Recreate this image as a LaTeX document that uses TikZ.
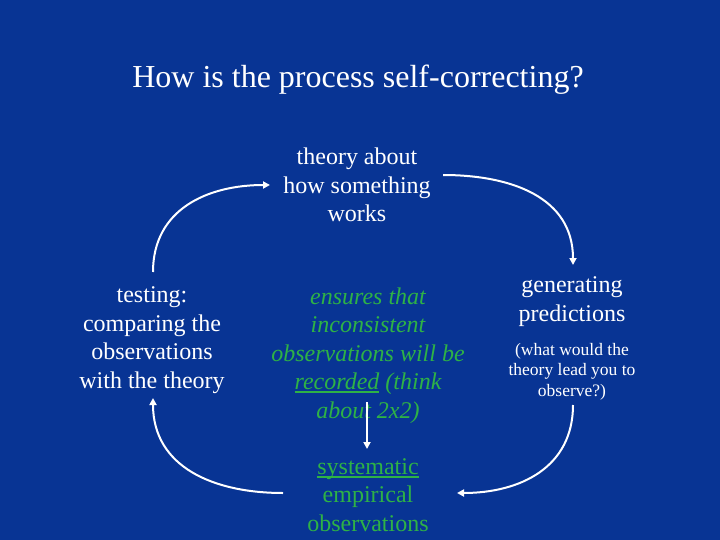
\documentclass[tikz,border=0pt]{standalone}
\usepackage{fontspec}
\setmainfont{Liberation Serif}
\usetikzlibrary{arrows.meta}
\definecolor{slideblue}{RGB}{8,52,148}
\definecolor{slidegreen}{RGB}{46,178,70}
\newcommand{\thickul}[1]{\setbox0\hbox{#1}\rlap{\rule[-3.5pt]{\wd0}{1.6pt}}\box0\relax}
\begin{document}
\begin{tikzpicture}[x=1pt,y=-1pt,
    txt/.style={align=center,inner sep=0pt,anchor=base,text=white,
      font=\fontsize{24}{28.5}\selectfont},
    small/.style={txt,font=\fontsize{17.5}{20.5}\selectfont},
    flow/.style={white,line width=2pt,-{Triangle[length=7pt,width=7pt]}}]
  \fill[slideblue] (0,0) rectangle (720,540);
  \node[txt,font=\fontsize{32}{38}\selectfont] (title) at (358,88) {How is the process self-correcting?};
  % the cycle
  \node[txt] (theory) at (357,222) {theory about\\how something\\works};
  \node[txt] (predict) at (572,321) {generating\\predictions};
  \node[small] (lead) at (572,396) {(what would the\\theory lead you to\\observe?)};
  \node[txt,text=slidegreen] (obs) at (368,531) {\thickul{systematic}\\empirical\\observations};
  \node[txt] (testing) at (152,388) {testing:\\comparing the\\observations\\with the theory};
  % middle
  \node[txt,text=slidegreen,font=\fontsize{24}{28.5}\itshape] (ensures) at (368,418)
    {ensures that\\inconsistent\\observations will be\\\thickul{recorded} (think\\about 2x2)};
  \coordinate (t1) at (153,272);
  \coordinate (t2) at (270,185);
  \coordinate (p1) at (443,175);
  \coordinate (p2) at (573,265);
  \coordinate (l1) at (573,405);
  \coordinate (l2) at (457,493);
  \coordinate (o1) at (283,493);
  \coordinate (o2) at (153,398);
  \coordinate (e1) at (367,402);
  \coordinate (e2) at (367,449);
  \draw[flow] (t1) to[out=90,in=180,looseness=1.1] (t2);
  \draw[flow] (p1) to[out=0,in=90,looseness=1.1] (p2);
  \draw[flow] (l1) to[out=-90,in=0,looseness=1.1] (l2);
  \draw[flow] (o1) to[out=180,in=-90,looseness=1.1] (o2);
  \draw[flow] (e1) -- (e2);
\end{tikzpicture}
\end{document}
